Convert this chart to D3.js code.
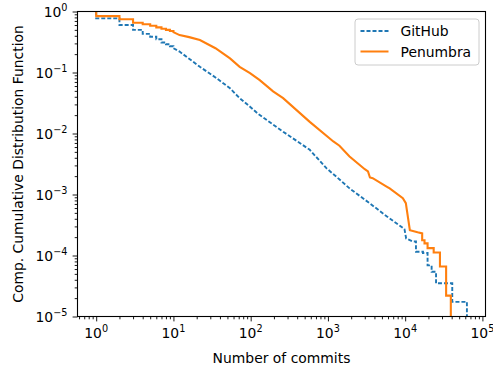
<!DOCTYPE html>
<html>
<head>
<meta charset="utf-8">
<script src="https://cdn.jsdelivr.net/npm/d3@7"></script>
<style>
  body { margin: 0; background: #fff; }
  text { font-family: "DejaVu Sans", sans-serif; }
</style>
</head>
<body>
<svg width="493" height="366"></svg>
<script>
// CCDF vertices (duplicated x = vertical step)
const githubCommits = [1, 1, 2, 2, 3, 3, 4, 4, 5, 5, 6, 6, 7, 7, 8, 8, 9, 9, 10, 10, 12,
    22, 35, 54, 72, 98, 125, 263, 582, 955, 1290, 1905, 3467, 5754, 8913, 9800, 10300,
    12600, 13800, 13800, 17000, 17000, 19500, 19500, 22000, 22000, 25100, 25100,
    40700, 40700, 63000, 63000];
const githubCcdf = [1, .77, .77, .60, .60, .50, .50, .43, .43, .386, .386, .35, .35, .31, .31, .29, .29, .27, .27, .25, .22,
    .124, .083, .055, .038, .0275, .021, .0107, .0054, .0027, .00195, .00126, 7.2e-4, 4.4e-4, 2.95e-4, 2.7e-4, 1.9e-4,
    1.7e-4, 1.7e-4, 1.15e-4, 1.15e-4, 1.1e-4, 1.1e-4, 6.9e-5, 6.9e-5, 5.4e-5, 5.4e-5, 3.5e-5,
    3.5e-5, 1.74e-5, 1.74e-5, 1e-6];

const penumbraCommits = [1, 1, 2, 2, 3, 3, 4, 4, 5, 5, 6, 6, 7, 7, 8, 8, 9, 9, 10, 10, 12, 16,
    22, 35, 54, 72, 98, 131, 195, 263, 582, 1175, 1410, 1905, 3000, 3300, 3500, 3800, 5750, 6300, 9330, 10200,
    11500, 14500, 16600, 16600, 17800, 17800, 19500, 19500, 23400, 23400, 28200, 28200,
    33900, 33900, 39000, 39000];
const penumbraCcdf = [1, .84, .84, .745, .745, .655, .655, .617, .617, .585, .585, .55, .55, .52, .52, .50, .50, .48, .48, .46, .41, .38,
    .34, .25, .17, .124, .098, .075, .049, .038, .0155, .0074, .0063, .0042, .0026, .0024, .0019, .00185, .00135, .00126, 8.7e-4, 7.2e-4,
    2.6e-4, 2.4e-4, 2.3e-4, 1.78e-4, 1.78e-4, 1.58e-4, 1.58e-4, 1.32e-4, 1.32e-4, 1.12e-4, 1.12e-4, 6.6e-5,
    6.6e-5, 2.2e-5, 2.2e-5, 1e-6];

const seriesNames = ["GitHub", "Penumbra"];
const xMajor = [1, 10, 100, 1000, 10000, 100000];
const xMajorExp = ["0", "1", "2", "3", "4", "5"];
const yMajor = [1, 1e-1, 1e-2, 1e-3, 1e-4, 1e-5];
const yMajorExp = ["0", "\u22121", "\u22122", "\u22123", "\u22124", "\u22125"];

let svg = d3.select("svg");

let margin = {left: 77.5, right: 7.5, top: 11.5, bottom: 49.5},
    width = 493 - margin.left - margin.right,
    height = 366 - margin.top - margin.bottom;

let x = d3.scaleLog()
    .domain([Math.pow(10, -0.242), Math.pow(10, 5.04)])
    .range([0, width]);

let y = d3.scaleLog()
    .domain([1e-5, 1])
    .range([height, 0]);

let g = svg.append("g")
    .attr("transform", "translate(" + margin.left + "," + margin.top + ")");

g.append("clipPath").attr("id", "clip")
    .append("rect").attr("width", width).attr("height", height);

// minor ticks
function minors(lo, hi) {
    let out = [];
    for (let e = lo; e < hi; e++)
        for (let k = 2; k <= 9; k++) out.push(k * Math.pow(10, e));
    return out;
}
let xMinor = minors(-1, 5).filter(function (v) { return v >= x.domain()[0] && v <= x.domain()[1]; });
let yMinor = minors(-5, 0);

function styleAxis(sel) {
    sel.select(".domain").remove();
    sel.selectAll("line").attr("stroke", "#000").attr("stroke-width", 0.9);
}

g.append("g").attr("transform", "translate(0," + height + ")")
    .call(d3.axisBottom(x).tickValues(xMinor).tickSize(2.8).tickFormat(""))
    .call(styleAxis);
g.append("g").attr("transform", "translate(0," + height + ")")
    .call(d3.axisBottom(x).tickValues(xMajor).tickSize(4.9).tickFormat(""))
    .call(styleAxis);
g.append("g")
    .call(d3.axisLeft(y).tickValues(yMinor).tickSize(2.8).tickFormat(""))
    .call(styleAxis);
g.append("g")
    .call(d3.axisLeft(y).tickValues(yMajor).tickSize(4.9).tickFormat(""))
    .call(styleAxis);

// tick labels with superscripts
function powLabel(sel, exp) {
    sel.append("tspan").text("10");
    sel.append("tspan").attr("dy", -6).attr("font-size", 9.7).text(exp);
}

xMajor.forEach(function (v, i) {
    let t = g.append("text")
        .attr("x", x(v))
        .attr("y", height + 21.5)
        .attr("text-anchor", "middle")
        .attr("font-size", 13.9)
        .attr("fill", "#000");
    powLabel(t, xMajorExp[i]);
});

yMajor.forEach(function (v, i) {
    let t = g.append("text")
        .attr("x", -10)
        .attr("y", y(v) + 5)
        .attr("text-anchor", "end")
        .attr("font-size", 13.9)
        .attr("fill", "#000");
    powLabel(t, yMajorExp[i]);
});

// lines
let line = d3.line()
    .x(function (d) { return x(d[0]); })
    .y(function (d) { return y(d[1]); });

let githubData = githubCommits.map(function (c, i) { return [c, githubCcdf[i]]; });
let penumbraData = penumbraCommits.map(function (c, i) { return [c, penumbraCcdf[i]]; });

let plot = g.append("g").attr("clip-path", "url(#clip)");

plot.append("path")
    .datum(githubData)
    .attr("fill", "none")
    .attr("stroke", "#1f77b4")
    .attr("stroke-width", 1.9)
    .attr("stroke-dasharray", "4,2")
    .attr("d", line);

plot.append("path")
    .datum(penumbraData)
    .attr("fill", "none")
    .attr("stroke", "#ff7f0e")
    .attr("stroke-width", 2.1)
    .attr("d", line);

// frame
g.append("rect")
    .attr("width", width).attr("height", height)
    .attr("fill", "none").attr("stroke", "#000").attr("stroke-width", 1.1);

// axis labels
g.append("text")
    .attr("x", width / 2)
    .attr("y", height + 46.5)
    .attr("text-anchor", "middle")
    .attr("font-size", 13.9)
    .text("Number of commits");

g.append("text")
    .attr("transform", "translate(" + (-55) + "," + (height / 2) + ")rotate(-90)")
    .attr("text-anchor", "middle")
    .attr("font-size", 13.9)
    .text("Comp. Cumulative Distribution Function");

// legend
let legend = g.append("g").attr("transform", "translate(" + (355 - margin.left) + "," + (19 - margin.top) + ")");
legend.append("rect")
    .attr("width", 124).attr("height", 46).attr("rx", 3)
    .attr("fill", "#fff").attr("fill-opacity", 0.8)
    .attr("stroke", "#ccc").attr("stroke-width", 1);

[["#1f77b4", "4,2"], ["#ff7f0e", null]].forEach(function (s, i) {
    let cy = 12 + i * 20.5;
    legend.append("line")
        .attr("x1", 5.5).attr("x2", 33.5)
        .attr("y1", cy).attr("y2", cy)
        .attr("stroke", s[0]).attr("stroke-width", 2)
        .attr("stroke-dasharray", s[1]);
    legend.append("text")
        .attr("x", 45.5).attr("y", cy + 5)
        .attr("font-size", 13.9)
        .text(seriesNames[i]);
});
</script>
</body>
</html>
